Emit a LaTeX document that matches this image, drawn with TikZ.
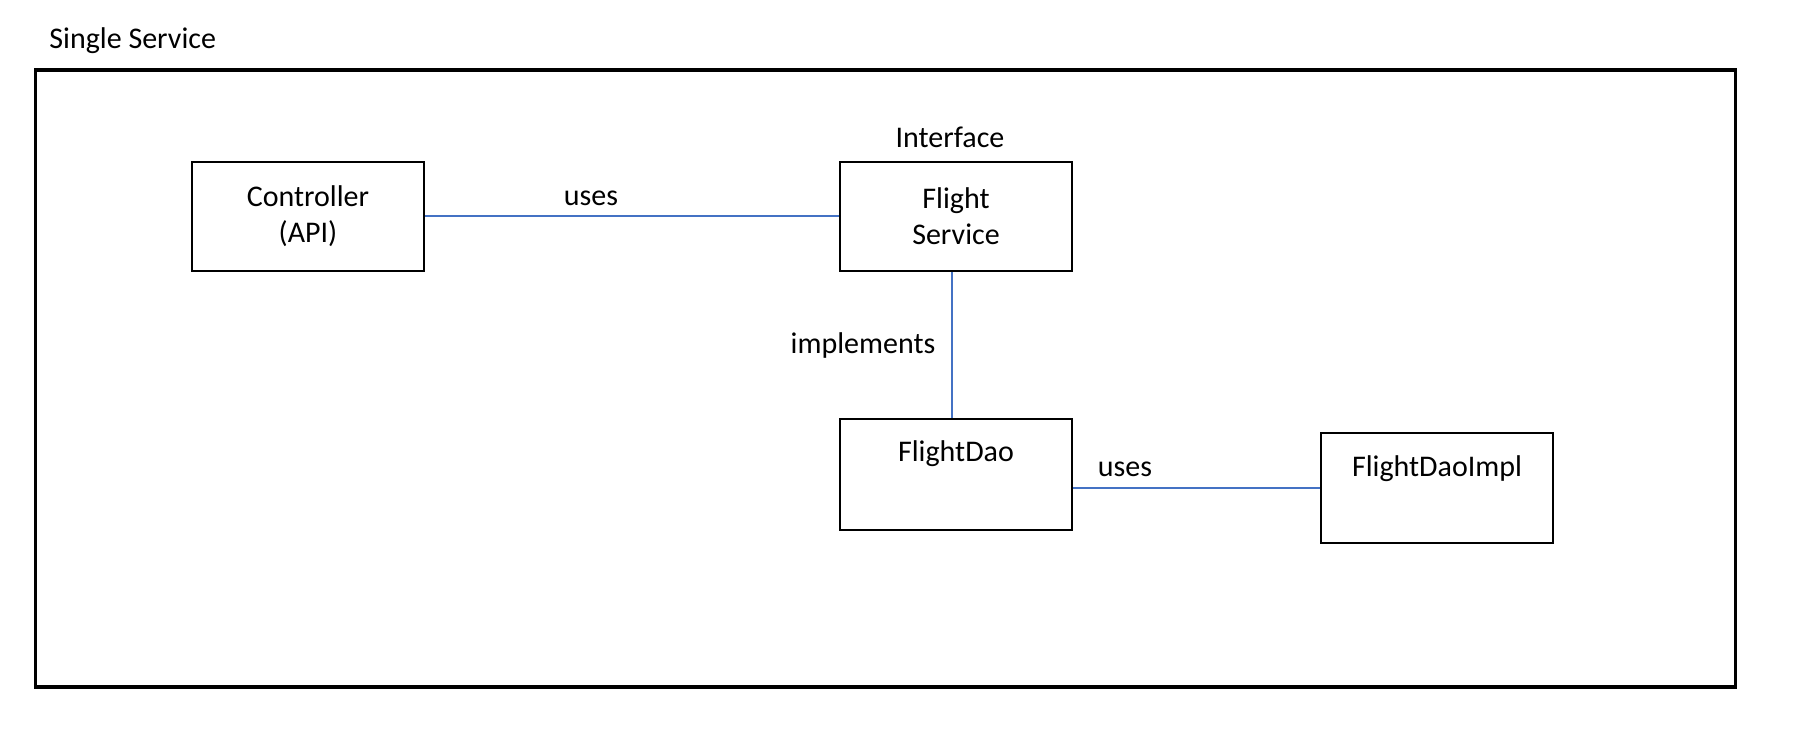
\documentclass[tikz,border=0pt]{standalone}
\usepackage{fontspec}
\setmainfont{Carlito}
\begin{document}
\begin{tikzpicture}[x=0.5pt,y=-0.5pt,
  box/.style={draw=black,line width=1pt,minimum width=116pt,minimum height=54.5pt,inner sep=0pt},
  txt/.style={font=\fontsize{15}{18}\selectfont,align=center,inner sep=0pt},
  link/.style={draw={rgb,255:red,68;green,114;blue,196},line width=1pt}]
\useasboundingbox (0,0) rectangle (1802,754);
\node[draw=black,line width=1.7pt,minimum width=850pt,minimum height=308.5pt,inner sep=0pt] (frame) at (885.5,378.5) {};
\node[txt,anchor=west] (title) at (49,41) {Single Service};
\node[box] (ctrl) at (308,216.5) {};
\node[txt] (ctrlt) at (308,216.5) {Controller\\(API)};
\node[box] (fs) at (956,216.5) {};
\node[txt] (fst) at (956,216.5) {Flight\\Service};
\node[txt] (iface) at (950,137) {Interface};
\node[box,minimum height=55.5pt] (fd) at (956,474.5) {};
\node[txt] (fdt) at (956,454) {FlightDao};
\node[box,minimum height=55pt] (fdi) at (1437,488) {};
\node[txt] (fdit) at (1437,469) {FlightDaoImpl};
\path[link] (ctrl.east) -- (fs.west);
\node[txt] (uses1) at (591,198) {uses};
\path[link] ([xshift=-2pt]fs.south) -- ([xshift=-2pt]fd.north);
\node[txt] (impl) at (863,345) {implements};
\path[link] (fdi.west) -- (fdi.west -| fd.east);
\node[txt] (uses2) at (1125,469) {uses};
\end{tikzpicture}
\end{document}
